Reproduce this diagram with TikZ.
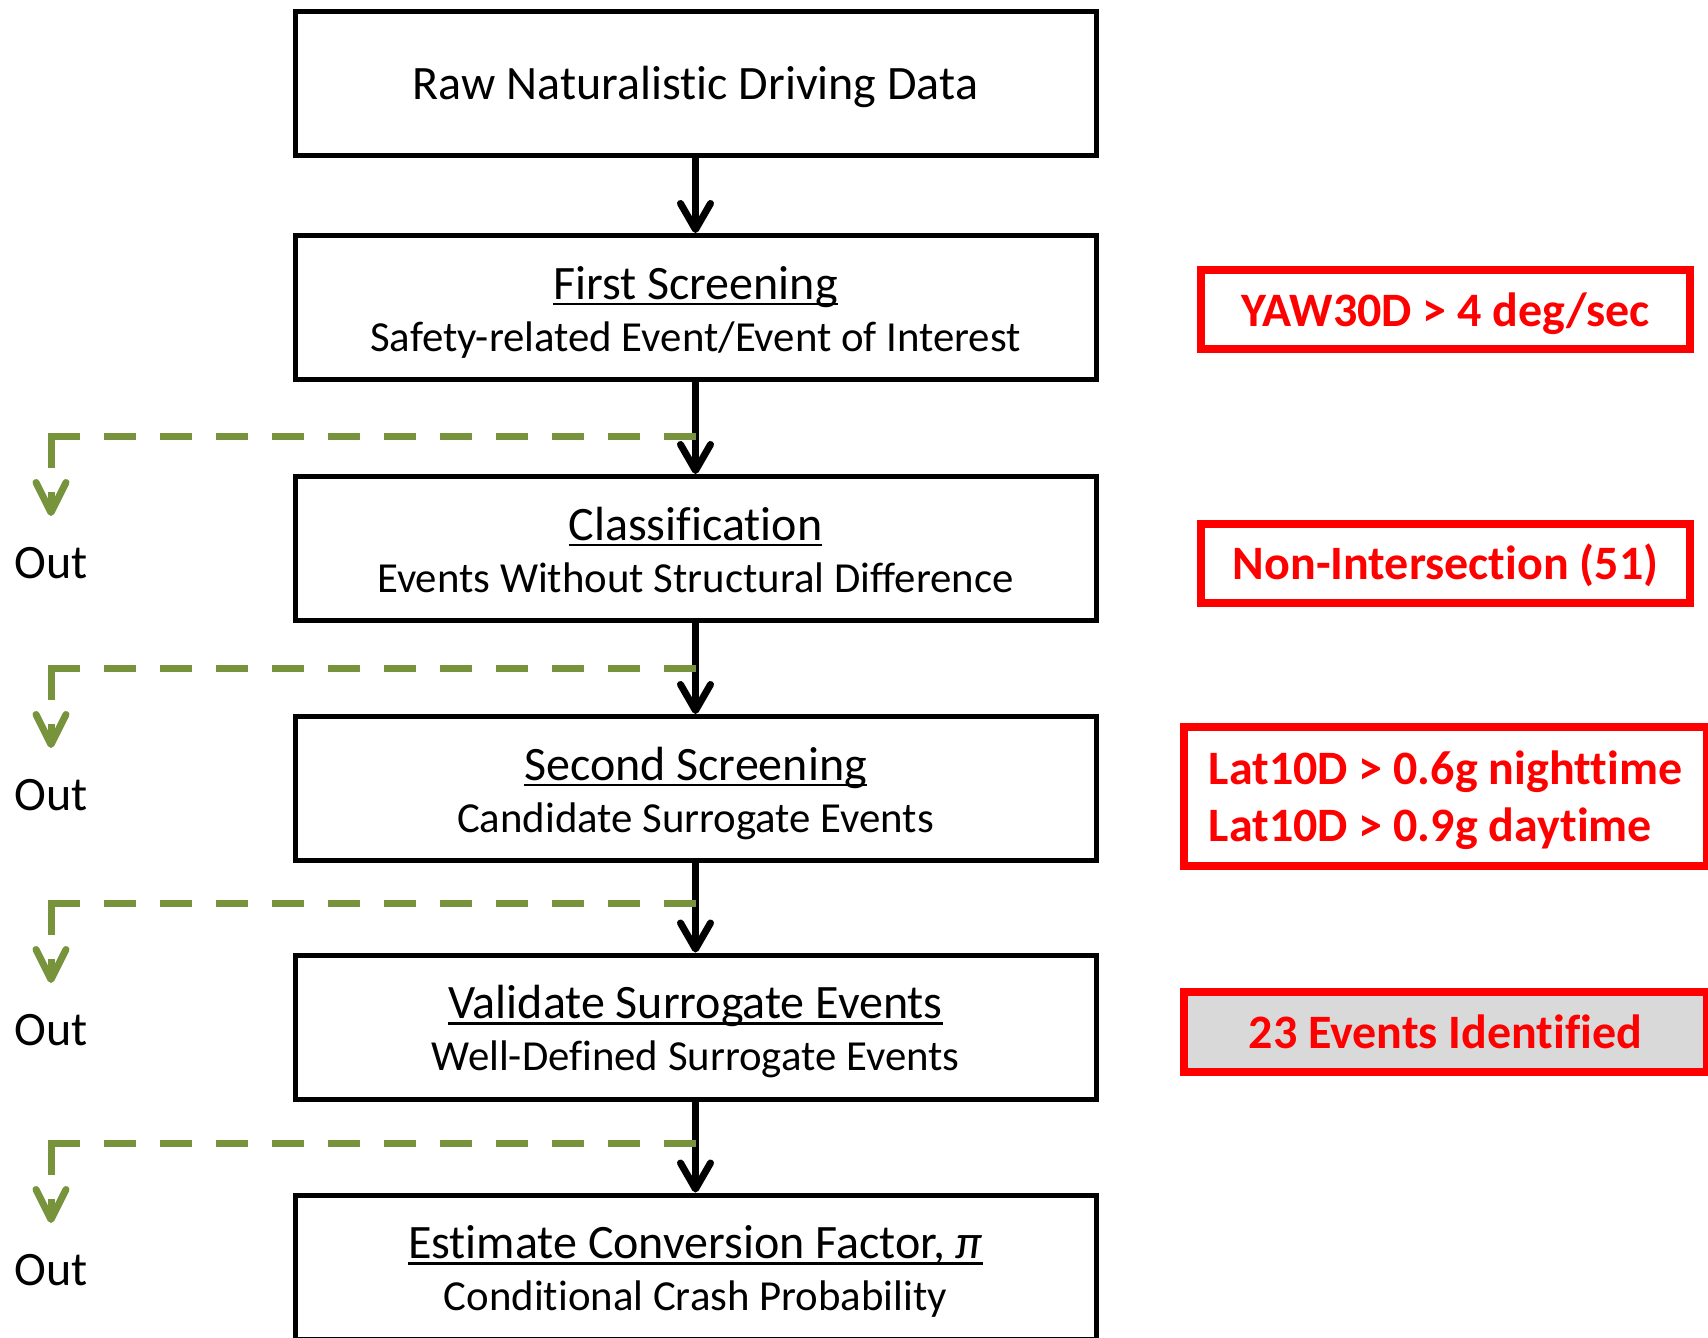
\documentclass[tikz,border=0pt]{standalone}
\usepackage{fontspec}
\setmainfont[Ligatures=NoCommon]{Carlito}
\usepackage{xcolor}
\usetikzlibrary{positioning, arrows.meta, calc}

\definecolor{outgreen}{HTML}{77933C}
\definecolor{notered}{HTML}{FF0000}
\definecolor{notegray}{HTML}{D9D9D9}

\newcommand{\hdline}[1]{\leavevmode\setbox0\hbox{#1}\rlap{\rule[-3.2pt]{\wd0}{1.4pt}}\box0}
\newcommand{\subfont}{\fontsize{21.4}{26}\selectfont}

\begin{document}
\begin{tikzpicture}[
    x=0.5pt, y=-0.5pt,
    stage/.style={draw, line width=2.5pt, minimum width=400.5pt, minimum height=72pt, inner sep=0pt, align=center, text height=43.5pt, text depth=0pt, font=\fontsize{24}{26}\selectfont},
    note/.style={draw=notered, line width=4pt, text=notered, inner sep=0pt, align=center, text height=16.5pt, text depth=0pt, font=\bfseries\fontsize{24}{28.5}\selectfont},
    flow/.style={line width=3.5pt, -{Straight Barb[length=13pt, width=15pt, round]}},
    dropline/.style={draw=outgreen, line width=3.5pt, dash pattern=on 16pt off 12pt},
    droptip/.style={-{Straight Barb[length=15pt, width=15pt, round]}},
    outlabel/.style={anchor=base, font=\fontsize{24}{26}\selectfont}
]
    \useasboundingbox (0,0) rectangle (1708,1338);

    % --- Stages ---
    \node[stage, text height=16pt] (RAW) at (695.5, 84) {Raw Naturalistic Driving Data};
    \node[stage] (FIRST) at (695.5, 307.5) {\hdline{First Screening}\\{\subfont Safety-related Event/Event of Interest}};
    \node[stage] (CLASS) at (695.5, 548.5) {\hdline{Classification}\\{\subfont Events Without Structural Difference}};
    \node[stage] (SECOND) at (695.5, 788.5) {\hdline{Second Screening}\\{\subfont Candidate Surrogate Events}};
    \node[stage] (VALID) at (695.5, 1027) {\hdline{Validate Surrogate Events}\\{\subfont Well-Defined Surrogate Events}};
    \node[stage] (EST) at (695.5, 1267) {\hdline{Estimate Conversion Factor, \textit{π}}\\{\subfont Conditional Crash Probability}};

    % --- Criteria ---
    \node[note, minimum width=244.5pt, minimum height=39.5pt] (yaw) at (1445.5, 309.5) {YAW30D > 4 deg/sec};
    \node[note, minimum width=244.5pt, minimum height=39.5pt] (nonint) at (1445.5, 563) {Non-Intersection (51)};
    \node[note, minimum width=261.5pt, minimum height=69.5pt, align=left, text height=44.5pt] (lat) at (1445.5, 796.5) {Lat10D > 0.6g nighttime\\Lat10D > 0.9g daytime};
    \node[note, fill=notegray, minimum width=261.5pt, minimum height=40pt] (ident) at (1445.5, 1032) {23 Events Identified};

    % --- Main flow ---
    \draw[flow] (RAW) -- (FIRST);
    \draw[flow] (FIRST) -- (CLASS);
    \draw[flow] (CLASS) -- (SECOND);
    \draw[flow] (SECOND) -- (VALID);
    \draw[flow] (VALID) -- (EST);

    % --- Dropped events ---
    \coordinate (c1) at (51, 436);
    \coordinate (o1) at (51, 516);
    \draw[dropline, shorten <=-1.75pt] (c1) -- (c1 -| FIRST);
    \draw[dropline, droptip] (c1) -- (o1);
    \node[outlabel] (out1) at (51, 578) {Out};

    \coordinate (c2) at (51, 668);
    \coordinate (o2) at (51, 748);
    \draw[dropline, shorten <=-1.75pt] (c2) -- (c2 -| CLASS);
    \draw[dropline, droptip] (c2) -- (o2);
    \node[outlabel] (out2) at (51, 810) {Out};

    \coordinate (c3) at (51, 903);
    \coordinate (o3) at (51, 983);
    \draw[dropline, shorten <=-1.75pt] (c3) -- (c3 -| SECOND);
    \draw[dropline, droptip] (c3) -- (o3);
    \node[outlabel] (out3) at (51, 1045) {Out};

    \coordinate (c4) at (51, 1143);
    \coordinate (o4) at (51, 1223);
    \draw[dropline, shorten <=-1.75pt] (c4) -- (c4 -| VALID);
    \draw[dropline, droptip] (c4) -- (o4);
    \node[outlabel] (out4) at (51, 1285) {Out};

\end{tikzpicture}
\end{document}
